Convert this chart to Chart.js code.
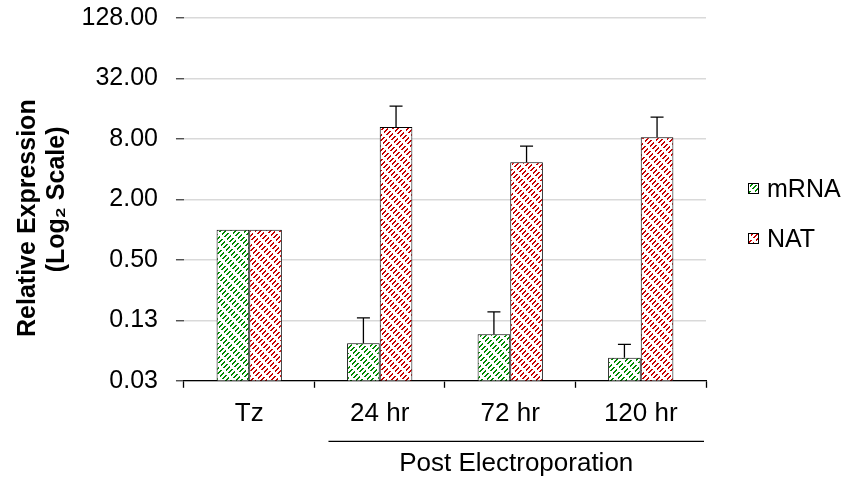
<!DOCTYPE html>
<html>
<head>
<meta charset="utf-8">
<script src="https://cdn.jsdelivr.net/npm/chart.js@4.4.1/dist/chart.umd.min.js"></script>
<style>
  html, body { margin: 0; padding: 0; background: #fff; }
  #wrap { width: 848px; height: 479px; }
</style>
</head>
<body>
<div id="wrap"><canvas id="chart-expr"></canvas></div>
<script>
// data
const categories = ['Tz', '24 hr', '72 hr', '120 hr'];
const mrnaValues = [1.0, 0.074, 0.091, 0.053];
const natValues = [1.0, 10.5, 4.68, 8.33];
// top of the error bars (null = none)
const mrnaErrTop = [null, 0.132, 0.152, 0.072];
const natErrTop = [null, 17.0, 6.77, 13.2];
const yTicks = [0.03125, 0.125, 0.5, 2, 8, 32, 128];
const yTickLabels = ['0.03', '0.13', '0.50', '2.00', '8.00', '32.00', '128.00'];
const groupLabel = 'Post Electroporation';

const FONT = "'Liberation Sans', Arial, sans-serif";

// dashed upward diagonal hatch
function makeHatch(color) {
    const size = 60;
    const c = document.createElement('canvas');
    c.width = size;
    c.height = size;
    const g = c.getContext('2d');
    g.fillStyle = '#fff';
    g.fillRect(0, 0, size, size);
    g.fillStyle = color;
    for (let x = 0; x < size; x++) {
        for (let y = 0; y < size; y++) {
            if ((x + y) % 5 < 2 && ((x - y + 120) % 12) < 8) {
                g.fillRect(x, y, 1, 1);
            }
        }
    }
    return g.createPattern(c, 'repeat');
}

const hatchGreen = makeHatch('#008a00');
const hatchRed = makeHatch('#c80000');

// error bars, only the upper half
const errorBars = {
    id: 'errorBars',
    afterDatasetsDraw(chart) {
        const ctx = chart.ctx;
        const y = chart.scales.y;
        const tops = [mrnaErrTop, natErrTop];
        ctx.save();
        ctx.strokeStyle = '#000';
        ctx.lineWidth = 1.3;
        chart.data.datasets.forEach((ds, di) => {
            const meta = chart.getDatasetMeta(di);
            meta.data.forEach((bar, i) => {
                const v = tops[di][i];
                if (v == null) return;
                const yt = y.getPixelForValue(v);
                ctx.beginPath();
                ctx.moveTo(bar.x, bar.y);
                ctx.lineTo(bar.x, yt);
                ctx.moveTo(bar.x - 6.5, yt);
                ctx.lineTo(bar.x + 6.5, yt);
                ctx.stroke();
            });
        });
        ctx.restore();
    }
};

// bracket under the post electroporation groups + legend
const extras = {
    id: 'extras',
    afterDraw(chart) {
        const ctx = chart.ctx;
        const x = chart.scales.x;
        const area = chart.chartArea;
        const w = x.getPixelForValue(1) - x.getPixelForValue(0);
        const left = x.getPixelForValue(1) - w / 2 + 14;
        const right = x.getPixelForValue(3) + w / 2 - 2;
        const ly = area.bottom + 60.5;
        ctx.save();
        ctx.strokeStyle = '#000';
        ctx.lineWidth = 1.3;
        ctx.beginPath();
        ctx.moveTo(left, ly);
        ctx.lineTo(right, ly);
        ctx.stroke();
        ctx.fillStyle = '#000';
        ctx.font = '26px ' + FONT;
        ctx.textAlign = 'center';
        ctx.textBaseline = 'middle';
        ctx.fillText(groupLabel, (left + right) / 2, area.bottom + 83);

        // legend
        const items = chart.data.datasets;
        ctx.font = '25px ' + FONT;
        ctx.textAlign = 'left';
        items.forEach((ds, i) => {
            const cy = 189 + i * 50;
            ctx.fillStyle = ds.backgroundColor;
            ctx.fillRect(748, cy - 6, 11, 11);
            ctx.strokeStyle = '#000';
            ctx.lineWidth = 1;
            ctx.strokeRect(748.5, cy - 5.5, 10, 10);
            ctx.fillStyle = '#000';
            ctx.fillText(ds.label, 767, cy + 1);
        });
        ctx.restore();
    }
};

const chart_expr = new Chart(document.getElementById('chart-expr').getContext('2d'), {
    type: 'bar',
    data: {
        labels: categories,
        datasets: [{
            label: 'mRNA',
            data: mrnaValues,
            backgroundColor: hatchGreen,
            borderColor: '#000',
            borderWidth: 1
        }, {
            label: 'NAT',
            data: natValues,
            backgroundColor: hatchRed,
            borderColor: '#000',
            borderWidth: 1
        }]
    },
    options: {
        responsive: true,
        maintainAspectRatio: false,
        devicePixelRatio: 1,
        animation: false,
        layout: {
            padding: { left: 10, right: 142, top: 18, bottom: 40 }
        },
        datasets: {
            bar: { categoryPercentage: 0.5, barPercentage: 1.0 }
        },
        plugins: {
            legend: { display: false },
            tooltip: { enabled: false }
        },
        scales: {
            x: {
                grid: {
                    offset: true,
                    drawOnChartArea: false,
                    drawTicks: true,
                    tickLength: 7,
                    tickColor: '#000',
                    tickWidth: 1.3
                },
                border: { display: true, color: '#000', width: 1.3 },
                ticks: {
                    color: '#000',
                    padding: 10,
                    font: { family: FONT, size: 26 }
                }
            },
            y: {
                type: 'logarithmic',
                min: 0.03125,
                max: 128,
                afterBuildTicks(scale) {
                    scale.ticks = yTicks.map(v => ({ value: v }));
                },
                afterFit(scale) {
                    // let layout padding decide the top/bottom of the plot
                    scale.paddingTop = 0;
                    scale.paddingBottom = 0;
                },
                grid: {
                    color: '#d9d9d9',
                    lineWidth: 1.5,
                    tickLength: 8,
                    tickColor: '#404040',
                    tickWidth: 1.3
                },
                border: { display: false },
                ticks: {
                    color: '#000',
                    padding: 18,
                    font: { family: FONT, size: 25 },
                    callback: (value, index) => yTickLabels[index]
                },
                title: {
                    display: true,
                    text: ['Relative Expression\u2002\u2002\u2002', '(Log\u2082 Scale)'],
                    color: '#000',
                    padding: { top: 4, bottom: -8 },
                    font: { family: FONT, size: 25, weight: 'bold', lineHeight: 1.15 }
                }
            }
        }
    },
    plugins: [errorBars, extras]
});
</script>
</body>
</html>
